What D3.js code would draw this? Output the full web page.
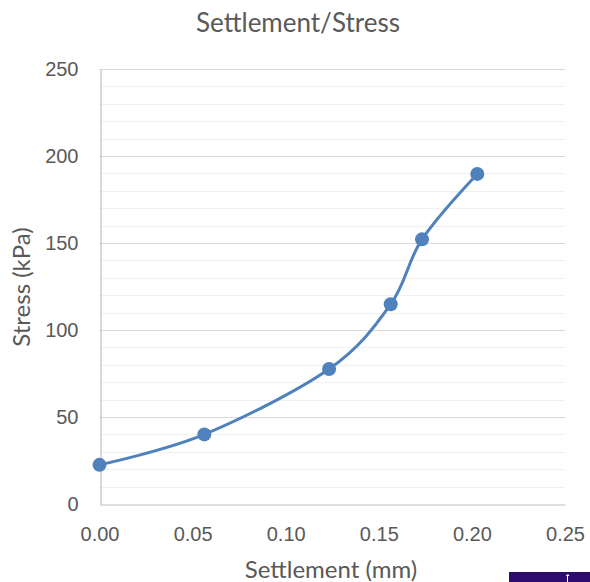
<!DOCTYPE html>
<html>
<head>
<meta charset="utf-8">
<script src="https://cdn.jsdelivr.net/npm/d3@7"></script>
<style>
  html, body { margin: 0; padding: 0; background: #fff; }
  svg { display: block; font-family: Lato, "Open Sans", "Liberation Sans", sans-serif; }
</style>
</head>
<body>
<svg id="chart" width="590" height="582"></svg>
<script>
// Load test readings: settlement (mm) against applied stress (kPa)
const settlement = [0.000, 0.0563, 0.1233, 0.1564, 0.1732, 0.2029];
const stress = [22.5, 40, 77.6, 114.8, 152.1, 189.7];
const xTicks = [0, 0.05, 0.10, 0.15, 0.20, 0.25];
const yTicks = [0, 50, 100, 150, 200, 250];
const yMinorTicks = d3.range(0, 251, 10);

const title = "Settlement/Stress";
const xTitle = "Settlement (mm)";
const yTitle = "Stress (kPa)";

const svg = d3.select("#chart");
const margin = { left: 99.5, right: 25, top: 69, bottom: 78 };
const W = 590, H = 582;

const x = d3.scaleLinear().domain([0, 0.25]).range([margin.left, W - margin.right]);
const y = d3.scaleLinear().domain([0, 250]).range([H - margin.bottom, margin.top]);

const textColor = "#595959";

// minor gridlines
svg.append("g")
  .selectAll("line")
  .data(yMinorTicks.filter(v => v % 50 !== 0))
  .join("line")
  .attr("x1", x(0)).attr("x2", x(0.25))
  .attr("y1", d => Math.round(y(d)) + 0.5).attr("y2", d => Math.round(y(d)) + 0.5)
  .attr("stroke", "#f0f0f0").attr("stroke-width", 1);

// major gridlines
svg.append("g")
  .selectAll("line")
  .data(yTicks.filter(v => v > 0))
  .join("line")
  .attr("x1", x(0)).attr("x2", x(0.25))
  .attr("y1", d => Math.round(y(d)) + 0.5).attr("y2", d => Math.round(y(d)) + 0.5)
  .attr("stroke", "#d9d9d9").attr("stroke-width", 1);

// axes
const xAxis = svg.append("g")
  .attr("transform", `translate(0,${Math.round(y(0)) + 0.5})`)
  .call(d3.axisBottom(x).tickValues(xTicks).tickFormat(d3.format(".2f")).tickSize(0).tickPadding(22));
xAxis.select(".domain").attr("stroke", "#bfbfbf").attr("stroke-width", 1.2);
xAxis.selectAll("text").attr("fill", textColor).style("font-size", "20px");

const yAxis = svg.append("g")
  .attr("transform", `translate(${Math.round(x(0)) + 0.5},0)`)
  .call(d3.axisLeft(y).tickValues(yTicks).tickSize(0).tickPadding(22));
yAxis.select(".domain").attr("stroke", "#bfbfbf").attr("stroke-width", 1.2);
yAxis.selectAll("text").attr("fill", textColor).style("font-size", "20px");

// smoothed series line
const pts = settlement.map((s, i) => [s, stress[i]]);
const line = d3.line()
  .x(d => x(d[0])).y(d => y(d[1]))
  .curve(d3.curveCardinal.tension(0));

svg.append("path")
  .datum(pts)
  .attr("d", line)
  .attr("fill", "none")
  .attr("stroke", "#4f81bd")
  .attr("stroke-width", 3)
  .attr("stroke-linecap", "round");

svg.append("g")
  .selectAll("circle")
  .data(pts)
  .join("circle")
  .attr("cx", d => x(d[0])).attr("cy", d => y(d[1]))
  .attr("r", 7)
  .attr("fill", "#4f81bd");

// titles
svg.append("text")
  .attr("x", 298).attr("y", 32)
  .attr("text-anchor", "middle")
  .attr("fill", textColor)
  .style("font-size", "26px")
  .text(title);

svg.append("text")
  .attr("x", 331).attr("y", 578)
  .attr("text-anchor", "middle")
  .attr("fill", textColor)
  .style("font-size", "24px")
  .text(xTitle);

svg.append("text")
  .attr("transform", "translate(30,287) rotate(-90)")
  .attr("text-anchor", "middle")
  .attr("fill", textColor)
  .style("font-size", "24px")
  .text(yTitle);

// corner badge
svg.append("rect")
  .attr("x", 509).attr("y", 572).attr("width", 81).attr("height", 10)
  .attr("fill", "#2d0c6e");
svg.append("path")
  .attr("d", "M568,574 l1.5,2 l-1.5,0 l0,6 l-1,0 l0,-6 l-1.5,0 z")
  .attr("fill", "#ffffff");
</script>
</body>
</html>
